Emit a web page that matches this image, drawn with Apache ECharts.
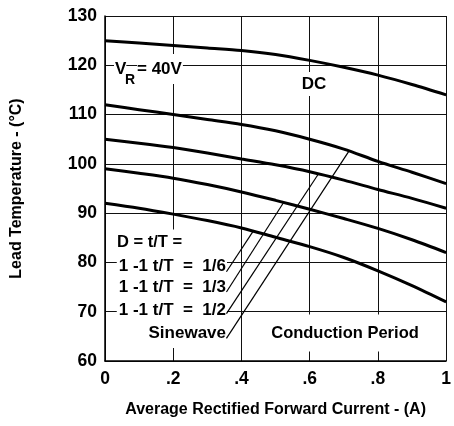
<!DOCTYPE html>
<html>
<head>
<meta charset="utf-8">
<script src="https://cdn.jsdelivr.net/npm/echarts@6/dist/echarts.min.js"></script>
<style>
  html, body { margin: 0; padding: 0; background: #fff; }
  #chart { width: 454px; height: 426px; }
</style>
</head>
<body>
<div id="chart"></div>
<script>
// Average rectified forward current (A) at which each curve is sampled
const currentA = [0, 0.1, 0.2, 0.3, 0.4, 0.5, 0.6, 0.7, 0.8, 0.9, 1.0];

// Maximum lead temperature (°C) for each waveform
const tempDC       = [125, 124.5, 124, 123.5, 123, 122.2, 121, 119.6, 118, 116.1, 114];
const tempSinewave = [112, 111, 110, 109, 108, 106.7, 105, 103, 100.5, 98.3, 96];
const tempHalf     = [105, 104.2, 103.3, 102.2, 101, 99.8, 98.4, 96.7, 94.8, 93, 91];
const tempThird    = [99, 98.1, 97.1, 95.8, 94.3, 92.6, 90.8, 88.9, 86.9, 84.6, 82];
const tempSixth    = [92, 91, 89.8, 88.5, 87, 85.1, 83.2, 81, 78.3, 75.3, 72];

// Leader lines from the duty-cycle labels to their curves: [current, temperature] pairs
const leaderSixth    = [[0.356, 78.1], [0.434, 86.3]];
const leaderThird    = [[0.356, 74.0], [0.524, 92.2]];
const leaderHalf     = [[0.356, 69.6], [0.625, 97.9]];
const leaderSinewave = [[0.356, 64.6], [0.716, 102.7]];

// Axis tick labels
const xTickLabels = ['0', '.2', '.4', '.6', '.8', '1'];

const FONT = '"Liberation Sans", Arial, Helvetica, sans-serif';

function curve(name, temps) {
  return {
    name: name,
    type: 'line',
    data: currentA.map((x, i) => [x, temps[i]]),
    smooth: 0.3,
    symbol: 'none',
    silent: true,
    lineStyle: { color: '#000', width: 3 },
    z: 3
  };
}

function leader(name, pts) {
  return {
    name: name,
    type: 'line',
    data: pts,
    symbol: 'none',
    silent: true,
    lineStyle: { color: '#000', width: 1.2 },
    z: 3
  };
}

function label(text, x, y, size, align, pad) {
  return {
    type: 'text',
    z: 1,
    silent: true,
    style: {
      text: text,
      x: x,
      y: y,
      font: 'bold ' + size + 'px ' + FONT,
      fill: '#000',
      align: align,
      verticalAlign: 'middle',
      textAlign: align,
      textVerticalAlign: 'middle',
      backgroundColor: '#fff',
      padding: pad
    }
  };
}

const chart = echarts.init(document.getElementById('chart'), null, { renderer: 'canvas' });

chart.setOption({
  animation: false,
  backgroundColor: '#fff',
  grid: { left: 105, right: 2, top: 16, bottom: 65, containLabel: false },
  xAxis: {
    type: 'value',
    min: 0,
    max: 1,
    interval: 0.2,
    name: 'Average Rectified Forward Current - (A)',
    nameLocation: 'middle',
    nameGap: 41,
    nameTextStyle: { fontFamily: FONT, fontWeight: 'bold', fontSize: 16, color: '#000' },
    axisLine: { show: true, lineStyle: { color: '#000', width: 1.5 } },
    axisTick: { show: false },
    axisLabel: {
      margin: 9,
      fontFamily: FONT, fontWeight: 'bold', fontSize: 17.5, color: '#000',
      formatter: v => xTickLabels[Math.round(v * 5)]
    },
    splitLine: { show: true, lineStyle: { color: '#111', width: 1 } }
  },
  yAxis: {
    type: 'value',
    min: 60,
    max: 130,
    interval: 10,
    name: 'Lead Temperature - (°C)',
    nameLocation: 'middle',
    nameGap: 80,
    nameTextStyle: { fontFamily: FONT, fontWeight: 'bold', fontSize: 16, color: '#000' },
    axisLine: { show: true, lineStyle: { color: '#000', width: 1.5 } },
    axisTick: { show: false },
    axisLabel: { margin: 8, fontFamily: FONT, fontWeight: 'bold', fontSize: 17.5, color: '#000' },
    splitLine: { show: true, lineStyle: { color: '#111', width: 1 } }
  },
  series: [
    curve('DC', tempDC),
    curve('Sinewave', tempSinewave),
    curve('D = 1/2', tempHalf),
    curve('D = 1/3', tempThird),
    curve('D = 1/6', tempSixth),
    leader('1/6 leader', leaderSixth),
    leader('1/3 leader', leaderThird),
    leader('1/2 leader', leaderHalf),
    leader('Sinewave leader', leaderSinewave)
  ],
  graphic: [
    label('V', 114, 69, 17, 'left', [4, 0, 8, 1]),
    label('R', 125, 80, 14, 'left', [2, 0, 1, 0]),
    label('= 40V', 137, 69, 17, 'left', [5, 1, 8, 0]),
    label('DC', 314, 84, 17, 'center', [2, 2, 5, 2]),
    label('D = t/T =', 115, 242, 16.5, 'left', [4, 2, 4, 2]),
    label('1 -1 t/T  =  1/6', 227, 266, 17, 'right', [4, 1, 4, 2]),
    label('1 -1 t/T  =  1/3', 227, 287.5, 17, 'right', [4, 1, 4, 2]),
    label('1 -1 t/T  =  1/2', 227, 310, 17, 'right', [4, 1, 4, 2]),
    label('Sinewave', 227, 333, 17, 'right', [4, 1, 9, 2]),
    label('Conduction Period', 345, 333, 16.5, 'center', [11, 2, 9, 2])
  ]
});
</script>
</body>
</html>
